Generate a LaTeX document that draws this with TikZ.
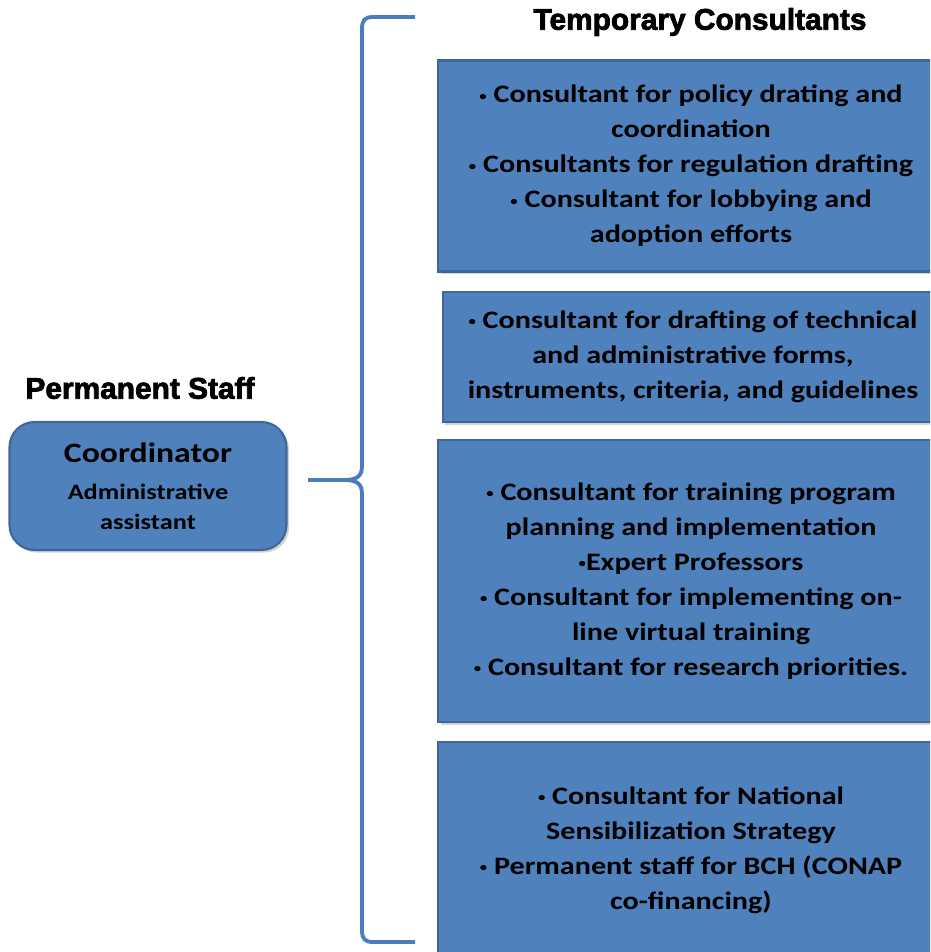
\documentclass[tikz,border=0pt]{standalone}
\usepackage{fontspec}
\setmainfont{Carlito}[FakeStretch=1.2]
\newfontfamily\headfont{Liberation Sans}[BoldFeatures={FakeBold=2.5}]
\usetikzlibrary{shadows}
\definecolor{boxblue}{HTML}{4F81BD}
\definecolor{boxedge}{HTML}{3D6798}
\definecolor{bracecol}{HTML}{4A7EBB}
\newcommand\bul{\raisebox{1.6pt}{\fontsize{7}{7}\selectfont •}}

\begin{document}
\begin{tikzpicture}[x=0.02cm,y=-0.02cm,
every node/.style={align=center,anchor=center},
tbox/.style={rectangle,fill=boxblue,draw=boxedge,line width=1.2pt,minimum width=10.12cm,
drop shadow={opacity=0.35,shadow xshift=1.5pt,shadow yshift=-1.5pt},
font=\bfseries\fontsize{14.3}{19.9}\selectfont},
head/.style={font=\headfont\bfseries\fontsize{17}{20}\selectfont},
brace/.style={draw=bracecol,line width=2.2pt}]
\clip (0,0) rectangle (930,952);
% headings
\node[head] (ps) at (140,388) {Permanent Staff};
\node[head] (tc) at (700,22) {Temporary Consultants};
% permanent staff
\node[tbox,rounded corners=0.5cm,minimum width=5.54cm,minimum height=2.56cm,
font=\bfseries\fontsize{12.5}{17}\selectfont] (P) at (148,486)
{{\fontsize{16}{19.9}\selectfont Coordinator}\\[4pt] Administrative\\ assistant};
% temporary consultants
\node[tbox,minimum height=4.22cm] (C1) at (691,166) {%
\bul{} Consultant for policy drating and\\ coordination\\
\bul{} Consultants for regulation drafting\\
\bul{} Consultant for lobbying and\\ adoption efforts};
\node[tbox,minimum width=10.02cm,minimum height=2.6cm] (C2) at (693,357) {%
\bul{} Consultant for drafting of technical\\ and administrative forms,\\
instruments, criteria, and guidelines};
\node[tbox,minimum height=5.64cm] (C3) at (691,581) {%
\bul{} Consultant for training program\\ planning and implementation\\
\bul{}Expert Professors\\
\bul{} Consultant for implementing on-\\ line virtual training\\
\bul{} Consultant for research priorities.};
\node[tbox,minimum height=4.32cm] (C4) at (691,850) {%
\bul{} Consultant for National\\ Sensibilization Strategy\\
\bul{} Permanent staff for BCH (CONAP\\ co-financing)};
% brace
\coordinate (top) at (415,17);
\coordinate (bot) at (415,942);
\coordinate (tip) at (308,480);
\draw[brace] (top) -- (373,17) .. controls (365,17) and (362,20) .. (362,29) -- (362,466)
.. controls (362,477) and (356,480) .. (344,480) -- (tip);
\draw[brace] (bot) -- (373,942) .. controls (365,942) and (362,939) .. (362,930) -- (362,494)
.. controls (362,483) and (356,480) .. (344,480);
\end{tikzpicture}
\end{document}
